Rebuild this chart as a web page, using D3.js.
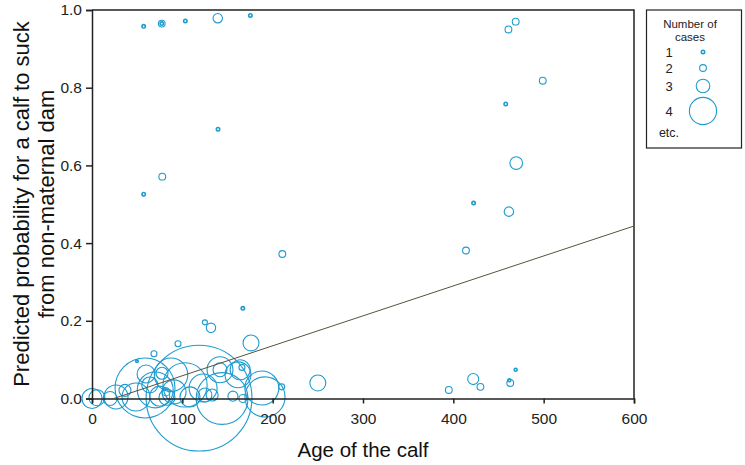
<!DOCTYPE html>
<html><head><meta charset="utf-8">
<script src="https://cdn.jsdelivr.net/npm/d3@7"></script>
<style>body{margin:0;background:#fff}svg{display:block;font-family:"Liberation Sans",Arial,sans-serif}</style>
</head><body><svg id="c" width="745" height="465"></svg>
<script>
// data: age of calf, predicted probability, size class (number of cases, log2-type)
const ages = [0,5.5,20,26.6,36.5,48.7,49.8,58.7,59.8,64,68.6,70,75,77.5,82,83,87.5,90.8,95.2,103,108.5,118.5,123,125,125,131.7,133,141.7,141.7,144,156,161.6,164,166,167,167,176,188,191.5,210,250,
  57.2,77.2,77.2,103.3,139.2,175.3,57.2,77.8,139.5,210.7,
  461,469,499,458,469.6,461.5,422.4,414,395,422,430,463,462,469];
const probs = [0,0.002,0,0.004,0.021,0.004,0.096,0.027,0.063,0.035,0.115,0.022,0.006,0.065,0.017,0.003,0.061,0.017,0.141,0.035,0.004,0.001,0.027,0.196,0.009,0.182,0.009,0.074,0.074,0,0.006,0.061,0.074,0.08,0.232,0,0.143,0.027,0.004,0.03,0.04,
  0.958,0.965,0.965,0.972,0.979,0.986,0.526,0.571,0.693,0.372,
  0.95,0.97,0.818,0.758,0.606,0.481,0.503,0.381,0.022,0.05,0.03,0.04,0.047,0.074];
const cases = [3.56,3.23,3.04,3.82,2.82,4.04,0.6,5.14,3.4,3.23,1.82,4.4,3.56,2.82,2.23,3.23,4.3,3.82,1.82,4.7,3.56,5.96,4.04,1.56,3.04,2.47,2.82,3.04,3.93,4.93,2.56,3.93,3.56,1.82,1,2.23,3.23,4.32,4.56,1.82,3.23,
  1,2,1,1,2.47,1,1,2,1,2,
  2,2,2,1,2.9,2.47,1,2,2,2.7,2,2,0.8,0.8];
const xTicks = [0,100,200,300,400,500,600];
const yTicks = [0,0.2,0.4,0.6,0.8,1.0];
const trendAge = [24,600];
const trendProb = [0,0.444];
const legendCases = [1,2,3,4];
const legendLabels = ["1","2","3","4"];

const svg = d3.select("#c");
const x = d3.scaleLinear().domain([0,600]).range([92,634]);
const y = d3.scaleLinear().domain([0,1]).range([398.5,10]);
const r = d3.scaleLinear().domain([0,1]).range([0,0.85]);
const rad = n => r(Math.pow(2,n));
const blue = "#1e9bcf";

const pts = ages.map((a,i)=>({a, p:probs[i], n:cases[i]})).sort((p,q)=>q.n-p.n);
svg.append("g").selectAll("circle").data(pts).join("circle")
  .attr("cx",d=>x(d.a)).attr("cy",d=>y(d.p)).attr("r",d=>rad(d.n))
  .attr("fill","none").attr("stroke",blue).attr("stroke-width",d=>d.n<1.5?1.6:1.1);

// frame
svg.append("path").attr("d",`M${x(0)},${y(1)}H${x(600)}V${y(0)}`).attr("fill","none").attr("stroke","#222").attr("stroke-width",1.5);

const xa = svg.append("g").attr("transform",`translate(0,${y(0)})`)
  .call(d3.axisBottom(x).tickValues(xTicks).tickSize(5).tickPadding(9).tickFormat(d3.format("d")));
const ya = svg.append("g").attr("transform",`translate(${x(0)},0)`)
  .call(d3.axisLeft(y).tickValues(yTicks).tickSize(6).tickPadding(4).tickFormat(d3.format(".1f")));
[xa,ya].forEach(g=>{
  g.select(".domain").attr("stroke","#222").attr("stroke-width",1.5);
  g.selectAll(".tick line").attr("stroke","#222").attr("stroke-width",1.5);
  g.selectAll("text").attr("font-size",15.5).attr("fill","#222").attr("font-family","Liberation Sans, Arial, sans-serif");
});

// trend line
svg.append("path").datum(trendAge.map((a,i)=>[a,trendProb[i]]))
  .attr("d",d3.line().x(d=>x(d[0])).y(d=>y(d[1])))
  .attr("fill","none").attr("stroke","#55533f").attr("stroke-width",1);

// titles
svg.append("text").attr("x",363).attr("y",457).attr("text-anchor","middle").attr("font-size",20.5).attr("fill","#111").text("Age of the calf");
const yt = svg.append("text").attr("transform","translate(29,204) rotate(-90)").attr("text-anchor","middle").attr("font-size",22).attr("fill","#111");
yt.append("tspan").attr("x",0).attr("dy",0).text("Predicted probability for a calf to suck");
yt.append("tspan").attr("x",0).attr("dy",25).text("from non-maternal dam");

// legend
const lg = svg.append("g");
lg.append("rect").attr("x",646.5).attr("y",10).attr("width",95).attr("height",138).attr("fill","#fff").attr("stroke","#222").attr("stroke-width",1.2);
lg.append("text").attr("x",690).attr("y",28).attr("text-anchor","middle").attr("font-size",11.5).attr("fill","#222").text("Number of");
lg.append("text").attr("x",690).attr("y",41).attr("text-anchor","middle").attr("font-size",11.5).attr("fill","#222").text("cases");
const ly = d3.scaleOrdinal().domain(legendCases).range([52,68,86,111]);
legendCases.forEach((n,i)=>{
  lg.append("text").attr("x",669).attr("y",ly(n)+4.5).attr("text-anchor","middle").attr("font-size",13).attr("fill","#222").text(legendLabels[i]);
  lg.append("circle").attr("cx",703).attr("cy",ly(n)).attr("r",rad(n)).attr("fill","none").attr("stroke",blue).attr("stroke-width",n===1?1.6:1.1);
});
lg.append("text").attr("x",669).attr("y",137).attr("text-anchor","middle").attr("font-size",12.5).attr("fill","#222").text("etc.");
</script></body></html>
